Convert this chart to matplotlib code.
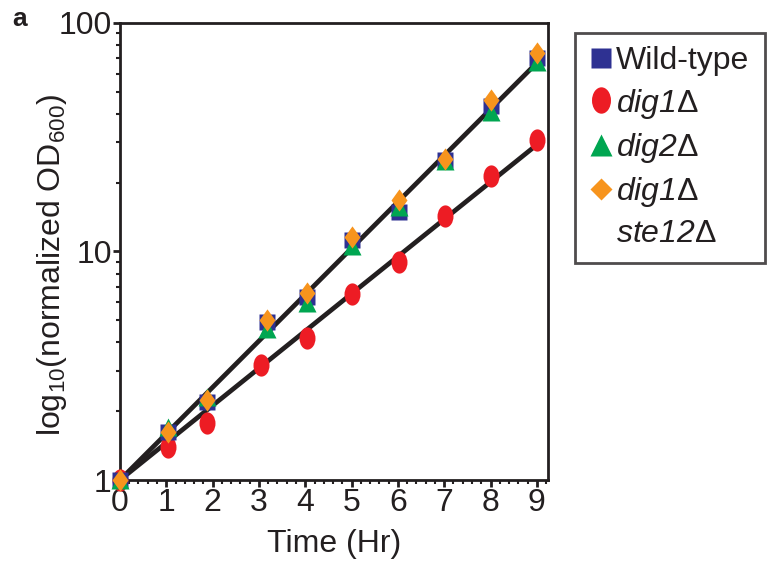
import numpy as np
import matplotlib.pyplot as plt
from matplotlib.path import Path
from matplotlib.transforms import Affine2D
from matplotlib.lines import Line2D
from matplotlib.ticker import MultipleLocator, LogLocator, NullFormatter

plt.rcParams['font.family'] = ['Liberation Sans', 'DejaVu Sans']
plt.rcParams['mathtext.fontset'] = 'custom'
plt.rcParams['mathtext.rm'] = 'Liberation Sans'
plt.rcParams['mathtext.it'] = 'Liberation Sans:italic'
plt.rcParams['mathtext.sf'] = 'Liberation Sans:italic'

# growth curves (time in hours, normalized OD600)
t_wt = [0, 1.04, 1.88, 3.18, 4.03, 5.01, 6.02, 7.01, 8.02, 9.0]
wt = [1.0, 1.63, 2.20, 4.93, 6.34, 11.2, 14.9, 25.2, 43.3, 70.0]

t_dig1 = [0, 1.04, 1.88, 3.04, 4.03, 5.01, 6.02, 7.01, 8.02, 9.0]
dig1 = [1.0, 1.40, 1.77, 3.19, 4.17, 6.51, 8.97, 14.3, 21.3, 30.8]

t_dig2 = [0, 1.04, 1.88, 3.18, 4.03, 5.01, 6.02, 7.01, 8.02, 9.0]
dig2 = [1.0, 1.71, 2.31, 4.6, 5.96, 10.6, 15.7, 24.8, 40.9, 67.7]

t_dig1ste12 = [0, 1.04, 1.88, 3.18, 4.03, 5.01, 6.02, 7.01, 8.02, 9.0]
dig1ste12 = [1.0, 1.63, 2.25, 5.0, 6.6, 11.6, 16.8, 25.5, 46.0, 73.6]

blue = '#2E3192'
red = '#ED1C24'
green = '#00A651'
orange = '#F7941D'
ink = '#231F20'

ellipse = Path.unit_circle().transformed(Affine2D().scale(0.72, 1.0))
diamond = Path([(0, 1), (0.72, 0), (0, -1), (-0.72, 0), (0, 1)],
               [Path.MOVETO, Path.LINETO, Path.LINETO, Path.LINETO, Path.CLOSEPOLY])


def fit_line(t, y):
    # exponential fit through (0, 1)
    t = np.asarray(t)
    ly = np.log10(y)
    k = np.sum(t * ly) / np.sum(t * t)
    tt = np.array([0, t.max()])
    return tt, 10 ** (k * tt)


fig = plt.figure(figsize=(7.73, 5.69), dpi=100)
ax = fig.add_axes([0.1552, 0.1564, 0.5537, 0.8032])

x1, y1 = fit_line(t_wt, wt)
x2, y2 = fit_line(t_dig1, dig1)
ax.plot(x1, y1, color=ink, lw=3.4, zorder=2, solid_capstyle='butt')
ax.plot(x2, y2, color=ink, lw=3.4, zorder=2, solid_capstyle='butt')

ax.plot(t_dig1, dig1, ls='none', marker=ellipse, ms=16, color=red, mec='none', clip_on=False, zorder=3)
ax.plot(t_wt, wt, ls='none', marker='s', ms=11, color=blue, mec='none', clip_on=False, zorder=3)
ax.plot(t_dig2, dig2, ls='none', marker='^', ms=12.5, color=green, mec='none', clip_on=False, zorder=4)
ax.plot(t_dig1ste12, dig1ste12, ls='none', marker=diamond, ms=16, color=orange, mec='none', clip_on=False, zorder=5)

ax.set_yscale('log')
ax.set_ylim(1, 100)
ax.set_xlim(0, 9.24)
ax.set_yticks([1, 10, 100])
ax.set_yticklabels(['1', '10', '100'])
ax.yaxis.set_minor_locator(LogLocator(base=10, subs=np.arange(2, 10)))
ax.yaxis.set_minor_formatter(NullFormatter())
ax.xaxis.set_major_locator(MultipleLocator(1))
ax.xaxis.set_minor_locator(MultipleLocator(0.2))

for s in ax.spines.values():
    s.set_linewidth(2)
    s.set_color(ink)
ax.tick_params(which='major', direction='out', length=5, width=2, labelsize=23, pad=1, color=ink, labelcolor=ink)
ax.tick_params(which='minor', direction='out', length=3, width=1.5, color=ink)

ax.set_xlabel('Time (Hr)', fontsize=23, labelpad=8, color=ink)
ax.set_ylabel(r'log$_{10}$(normalized OD$_{600}$)', fontsize=23, color=ink)
ax.yaxis.set_label_coords(-0.118, 0.47)

fig.text(0.016, 0.967, 'a', fontsize=19, fontweight='bold', va='center', color=ink)

handles = [
    Line2D([], [], ls='none', marker='s', ms=15, color=blue, mec='none'),
    Line2D([], [], ls='none', marker=ellipse, ms=19, color=red, mec='none'),
    Line2D([], [], ls='none', marker='^', ms=16, color=green, mec='none'),
    Line2D([], [], ls='none', marker='D', ms=11, color=orange, mec='none'),
    Line2D([], [], ls='none', marker='none'),
]
labels = ['Wild-type', r'$\mathsf{dig1}$Δ', r'$\mathsf{dig2}$Δ', r'$\mathsf{dig1}$Δ', r'$\mathsf{ste12}$Δ']
leg = fig.legend(handles, labels, loc='upper left', bbox_to_anchor=(0.744, 0.942, 0.246, 0.0),
                 mode='expand', frameon=True, fancybox=False, edgecolor=ink, fontsize=23,
                 handlelength=0.8, handletextpad=0.05, labelspacing=0.32,
                 borderpad=0.42, borderaxespad=0)
leg.get_frame().set_linewidth(2)
for txt in leg.get_texts():
    txt.set_color(ink)

fig.savefig('out.png', dpi=100)
